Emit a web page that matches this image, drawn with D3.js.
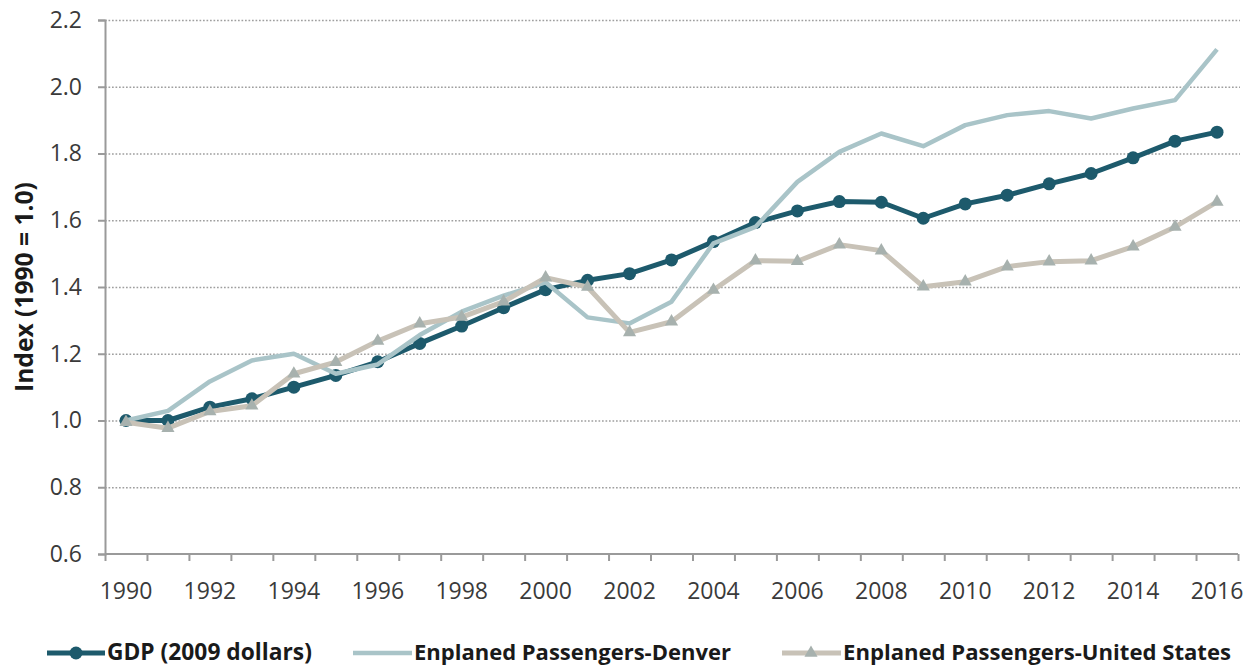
<!DOCTYPE html>
<html>
<head>
<meta charset="utf-8">
<script src="https://cdn.jsdelivr.net/npm/d3@7"></script>
<style>
  html, body { margin: 0; padding: 0; background: #fff; }
  svg { display: block; }
  text { font-family: "Open Sans", "Noto Sans", sans-serif; }
</style>
</head>
<body>
<svg id="chart" width="1257" height="667"></svg>
<script>
const years = [1990,1991,1992,1993,1994,1995,1996,1997,1998,1999,2000,2001,2002,2003,2004,2005,2006,2007,2008,2009,2010,2011,2012,2013,2014,2015,2016];
const gdp = [1.00,1.00,1.04,1.065,1.10,1.135,1.176,1.231,1.283,1.338,1.392,1.42,1.44,1.481,1.536,1.593,1.628,1.656,1.654,1.606,1.649,1.675,1.709,1.74,1.787,1.837,1.864];
const denver = [1.00,1.029,1.117,1.18,1.20,1.14,1.168,1.256,1.326,1.374,1.414,1.309,1.291,1.356,1.531,1.58,1.715,1.805,1.860,1.822,1.885,1.915,1.927,1.905,1.935,1.96,2.112];
const us = [0.995,0.977,1.027,1.044,1.14,1.175,1.238,1.29,1.31,1.356,1.428,1.40,1.264,1.296,1.391,1.479,1.477,1.527,1.509,1.401,1.416,1.461,1.476,1.479,1.521,1.58,1.655];
const yTicks = [0.6,0.8,1.0,1.2,1.4,1.6,1.8,2.0,2.2];
const xLabelYears = [1990,1992,1994,1996,1998,2000,2002,2004,2006,2008,2010,2012,2014,2016];
const seriesNames = ["GDP (2009 dollars)", "Enplaned Passengers-Denver", "Enplaned Passengers-United States"];
const yTitle = "Index (1990 = 1.0)";

const svg = d3.select("#chart");
const L = 105, R = 1238, T = 20, B = 554;

const x = d3.scaleBand().domain(years).range([L, R]).paddingInner(0).paddingOuter(0);
const xEdge = d3.scaleLinear().domain([0, years.length]).range([L, R]);
const y = d3.scaleLinear().domain([0.6, 2.2]).range([B, T]);
const cx = d => x(d) + x.bandwidth() / 2;

// gridlines
const grid = svg.append("g").attr("transform", `translate(${L},0)`)
  .call(d3.axisLeft(y).tickValues(yTicks.filter(v => v > 0.6)).tickSize(-(1240 - L)).tickFormat(""));
grid.select(".domain").remove();
grid.selectAll("line").attr("stroke", "#9f9f9f").attr("stroke-width", 1.7).attr("stroke-dasharray", "1.7 1.8");

// y axis
const ya = svg.append("g").attr("transform", `translate(${L},0)`)
  .call(d3.axisLeft(y).tickValues(yTicks).tickFormat(d3.format(".1f")).tickSize(7).tickPadding(16));
ya.select(".domain").attr("stroke", "#9a9a9a").attr("stroke-width", 2);
ya.selectAll(".tick line").attr("stroke", "#9a9a9a").attr("stroke-width", 2);
ya.selectAll("text").attr("font-size", 23).attr("fill", "#3a3a3a").attr("font-family", '"Open Sans", sans-serif');

// x axis: boundary ticks
const xa = svg.append("g").attr("transform", `translate(0,${B})`)
  .call(d3.axisBottom(xEdge).tickValues(d3.range(0, years.length + 1)).tickSize(7).tickFormat(""));
xa.select(".domain").attr("stroke", "#9a9a9a").attr("stroke-width", 2).attr("d", `M${L},0H${R}`);
xa.selectAll(".tick line").attr("stroke", "#9a9a9a").attr("stroke-width", 2);

// x labels
const xl = svg.append("g").attr("transform", `translate(0,${B})`)
  .call(d3.axisBottom(x).tickValues(xLabelYears).tickSize(0).tickFormat(d3.format("d")));
xl.select(".domain").remove();
xl.selectAll("text").attr("font-size", 23).attr("fill", "#3a3a3a").attr("y", 45).attr("dy", 0)
  .attr("font-family", '"Open Sans", sans-serif');

// y title
const yt = svg.append("text").attr("transform", "translate(33,287) rotate(-90)")
  .attr("text-anchor", "middle").attr("font-weight", "bold").attr("fill", "#1a1a1a")
  .attr("font-size", 20).text(yTitle);
function fit(sel, target) {
  const len = sel.node().getComputedTextLength();
  const fs = +sel.attr("font-size");
  sel.attr("font-size", (fs * target / len).toFixed(2));
}
fit(yt, 210);

// lines
const line = vals => d3.line().x((d, i) => cx(years[i])).y(d => y(d))(vals);
const colGDP = "#1d5a6c", colDen = "#a9c4c8", colUS = "#c8c2b7", colTri = "#a7b1ae";

svg.append("path").attr("d", line(gdp)).attr("fill", "none").attr("stroke", colGDP).attr("stroke-width", 5).attr("stroke-linejoin", "round");
svg.append("g").selectAll("circle").data(gdp).join("circle")
  .attr("cx", (d, i) => cx(years[i])).attr("cy", d => y(d)).attr("r", 6.5).attr("fill", colGDP);

svg.append("path").attr("d", line(denver)).attr("fill", "none").attr("stroke", colDen).attr("stroke-width", 4.5).attr("stroke-linejoin", "round");

svg.append("path").attr("d", line(us)).attr("fill", "none").attr("stroke", colUS).attr("stroke-width", 5).attr("stroke-linejoin", "round");
const tri = d3.symbol().type(d3.symbolTriangle).size(75);
svg.append("g").selectAll("path").data(us).join("path")
  .attr("d", tri).attr("transform", (d, i) => `translate(${cx(years[i])},${y(d)})`).attr("fill", colTri);

// legend
const lg = svg.append("g");
const legY = 653, legBase = 660;
// GDP
lg.append("line").attr("x1", 47).attr("x2", 105).attr("y1", legY).attr("y2", legY).attr("stroke", colGDP).attr("stroke-width", 5);
lg.append("circle").attr("cx", 76).attr("cy", legY).attr("r", 6.5).attr("fill", colGDP);
const t1 = lg.append("text").attr("x", 107).attr("y", legBase).attr("font-weight", "bold").attr("fill", "#1a1a1a").attr("font-size", 20).text(seriesNames[0]);
fit(t1, 205);
// Denver
lg.append("line").attr("x1", 353).attr("x2", 412).attr("y1", legY).attr("y2", legY).attr("stroke", colDen).attr("stroke-width", 4.5);
const t2 = lg.append("text").attr("x", 414).attr("y", legBase).attr("font-weight", "bold").attr("fill", "#1a1a1a").attr("font-size", 20).text(seriesNames[1]);
fit(t2, 317);
// US
lg.append("line").attr("x1", 782).attr("x2", 841).attr("y1", legY).attr("y2", legY).attr("stroke", colUS).attr("stroke-width", 5);
lg.append("path").attr("d", tri).attr("transform", `translate(811,${legY})`).attr("fill", colTri);
const t3 = lg.append("text").attr("x", 843).attr("y", legBase).attr("font-weight", "bold").attr("fill", "#1a1a1a").attr("font-size", 20).text(seriesNames[2]);
fit(t3, 388);
</script>
</body>
</html>
